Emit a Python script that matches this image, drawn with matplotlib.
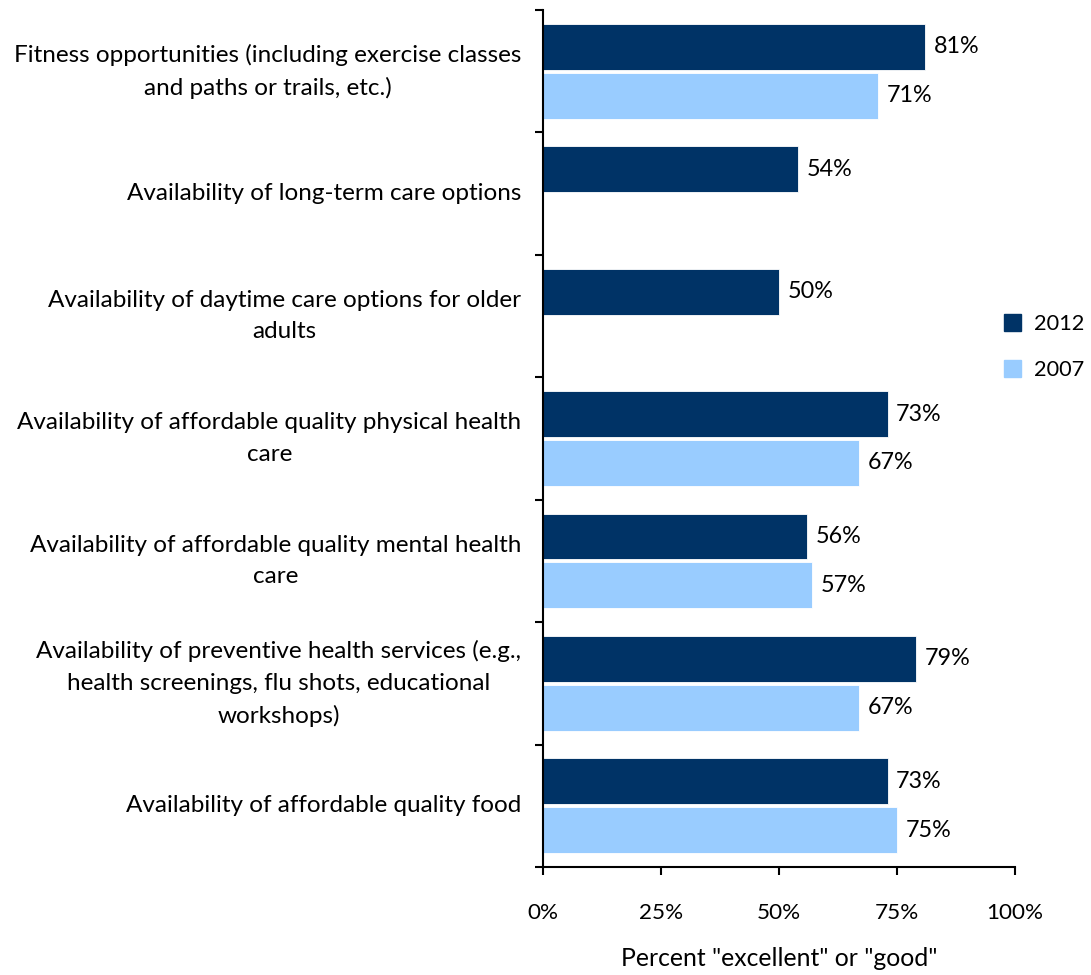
import matplotlib.pyplot as plt
import numpy as np
from matplotlib.patches import Patch

plt.rcParams['font.family'] = ['Lato', 'DejaVu Sans']

categories = [
    "Fitness opportunities (including exercise classes\nand paths or trails, etc.)",
    "Availability of long-term care options",
    "Availability of daytime care options for older\nadults",
    "Availability of affordable quality physical health\ncare",
    "Availability of affordable quality mental health\ncare",
    "Availability of preventive health services (e.g.,\nhealth screenings, flu shots, educational\nworkshops)",
    "Availability of affordable quality food",
]
vals_2012 = [81, 54, 50, 73, 56, 79, 73]
vals_2007 = [71, None, None, 67, 57, 67, 75]

dark = "#003366"
light = "#99CCFF"

fig = plt.figure(figsize=(10.91, 9.75), dpi=100)
ax = fig.add_axes([0.4977, 0.1108, 0.4326, 0.8789])

y = np.arange(len(categories))
h = 0.375
gap = 0.012

for i, (a, b) in enumerate(zip(vals_2012, vals_2007)):
    ax.barh(i - h / 2 - gap, a, height=h, color=dark, edgecolor="white", linewidth=0.6)
    ax.text(a + 1.8, i - h / 2 - gap, f"{a}%", va="center", ha="left", fontsize=16.8)
    if b is not None:
        ax.barh(i + h / 2 + gap, b, height=h, color=light, edgecolor="white", linewidth=0.6)
        ax.text(b + 1.8, i + h / 2 + gap, f"{b}%", va="center", ha="left", fontsize=16.8)

ax.set_ylim(len(categories) - 0.5, -0.5)
ax.set_xlim(0, 100)

# category boundaries carry the y ticks; labels sit at group centres
ax.set_yticks(np.arange(-0.5, len(categories), 1))
ax.set_yticklabels([])
ax.tick_params(axis="y", length=6, width=1.5, direction="out")
for i, lab in enumerate(categories):
    ax.text(-4.6, i, lab, ha="right", va="center", multialignment="center",
            fontsize=17.5, linespacing=1.62)

ax.set_xticks([0, 25, 50, 75, 100])
ax.set_xticklabels(["0%", "25%", "50%", "75%", "100%"], fontsize=16.2)
ax.tick_params(axis="x", length=6, width=1.5, direction="out", pad=20)
ax.set_xlabel('Percent "excellent" or "good"', fontsize=17.8, labelpad=17)

for side in ("top", "right"):
    ax.spines[side].set_visible(False)
for side in ("left", "bottom"):
    ax.spines[side].set_linewidth(1.5)

handles = [Patch(color=dark, label="2012"), Patch(color=light, label="2007")]
fig.legend(handles=handles, loc="center left", bbox_to_anchor=(0.902, 0.644),
           frameon=False, fontsize=15.7, handlelength=0.8, handleheight=0.8,
           handletextpad=0.6, labelspacing=1.2)

fig.savefig("out.png", dpi=100)
